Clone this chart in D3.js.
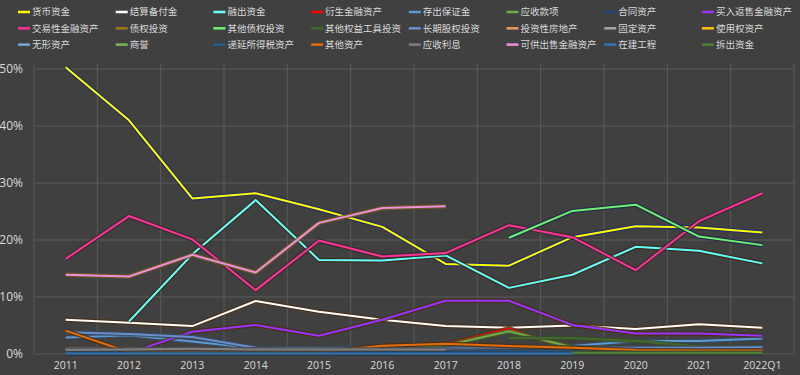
<!DOCTYPE html>
<html>
<head>
<meta charset="utf-8">
<script src="https://cdn.jsdelivr.net/npm/d3@7"></script>
<style>
  body { margin: 0; background: #404040; }
  .axis text { fill: #d9d9d9; font-family: "Open Sans", "Liberation Sans", sans-serif; }
  .legend text { fill: #d9d9d9; font-family: "Noto Sans CJK SC", sans-serif; font-size: 9.5px; }
</style>
</head>
<body>
<div id="chart"></div>
<script>
// categories on the x axis
var categories = ["2011","2012","2013","2014","2015","2016","2017","2018","2019","2020","2021","2022Q1"];

// series names (legend order = draw order)
var seriesNames = ["货币资金","结算备付金","融出资金","衍生金融资产","存出保证金","应收款项","合同资产","买入返售金融资产",
  "交易性金融资产","债权投资","其他债权投资","其他权益工具投资","长期股权投资","投资性房地产","固定资产","使用权资产",
  "无形资产","商誉","递延所得税资产","其他资产","应收利息","可供出售金融资产","在建工程","拆出资金"];

var seriesColors = ["#ffff00","#ffffff","#66ffff","#ff0000","#5b9bd5","#70ad47","#264478","#9933ff",
  "#ff3399","#9c7a1a","#70f070","#43682b","#698ed0","#f1975a","#a5a5a5","#ffc000",
  "#7ca5d9","#7cb94d","#255e91","#e46c0a","#7f7f7f","#f08ee0","#2e75b6","#548235"];

var glowColors = ["#1f2d6b","#4a2e14","#3a2a1a","#4a3a1a","#3a4a5a","#4a5a2a","#2a2a3a","#4a2e14",
  "#3a2a2a","#4a3a1a","#1f2d4b","#3a4a2a","#3a4a5a","#4a3a2a","#4a4a4a","#2a2a2a",
  "#3a4a5a","#4a5a2a","#2a3a4a","#4a2e14","#4a4a4a","#6b5a1a","#2a3a4a","#3a4a2a"];

// values in percent, null = no data
var 货币资金 = [50.3,41.0,27.3,28.2,25.4,22.3,15.8,15.5,20.5,22.4,22.2,21.3];
var 结算备付金 = [6.0,5.5,4.9,9.3,7.4,6.0,4.9,4.6,5.0,4.4,5.2,4.6];
var 融出资金 = [null,5.7,17.5,27.0,16.5,16.4,17.3,11.6,13.9,18.8,18.1,15.9];
var 衍生金融资产 = [0.1,0.1,0.2,0.2,0.2,0.3,1.7,4.5,0.6,0.3,0.3,0.3];
var 存出保证金 = [2.9,3.3,2.2,1.0,1.0,1.2,1.2,1.3,1.4,2.3,2.3,2.7];
var 应收款项 = [0.4,0.3,0.4,0.4,0.4,0.6,1.5,4.0,1.2,0.9,0.8,0.8];
var 合同资产 = [null,null,null,null,null,null,null,null,null,0.1,0.1,0.1];
var 买入返售金融资产 = [null,0.2,3.9,5.1,3.2,6.0,9.35,9.35,5.1,3.6,3.6,3.2];
var 交易性金融资产 = [16.7,24.2,20.1,11.2,19.9,17.1,17.7,22.6,20.5,14.7,23.3,28.2];
var 债权投资 = [null,null,null,null,null,null,null,0.5,0.4,0.3,0.3,0.3];
var 其他债权投资 = [null,null,null,null,null,null,null,20.4,25.1,26.2,20.6,19.1];
var 其他权益工具投资 = [null,null,null,null,null,null,null,2.8,2.8,2.3,1.3,1.2];
var 长期股权投资 = [3.8,3.5,3.0,1.1,1.0,0.9,0.9,1.0,1.1,1.1,1.1,1.2];
var 投资性房地产 = [0.1,0.1,0.1,0.1,0.1,0.1,0.1,0.1,0.1,0.1,0.1,0.1];
var 固定资产 = [0.9,0.9,0.8,0.8,0.6,0.6,0.6,0.6,0.6,0.5,0.5,0.5];
var 使用权资产 = [null,null,null,null,null,null,null,null,0.4,0.3,0.3,0.3];
var 无形资产 = [0.3,0.3,0.3,0.3,0.3,0.3,0.3,0.4,0.4,0.4,0.4,0.4];
var 商誉 = [0.2,0.2,0.2,0.2,0.2,0.2,0.2,0.2,0.2,0.2,0.2,0.2];
var 递延所得税资产 = [0.3,0.3,0.3,0.3,0.3,0.3,0.4,0.5,0.5,0.5,0.4,0.4];
var 其他资产 = [4.1,0.3,0.3,0.3,0.3,1.45,1.8,1.4,1.1,0.7,0.6,0.6];
var 应收利息 = [0.7,0.8,0.9,0.8,0.8,0.8,0.8,null,null,null,null,null];
var 可供出售金融资产 = [13.9,13.6,17.4,14.3,23.0,25.6,25.9,null,null,null,null,null];
var 在建工程 = [0.1,0.1,0.1,0.1,0.1,0.1,0.1,0.1,0.1,0.1,0.1,0.1];
var 拆出资金 = [null,null,null,null,null,null,null,null,0.2,0.2,0.2,0.2];

var seriesValues = [货币资金,结算备付金,融出资金,衍生金融资产,存出保证金,应收款项,合同资产,买入返售金融资产,
  交易性金融资产,债权投资,其他债权投资,其他权益工具投资,长期股权投资,投资性房地产,固定资产,使用权资产,
  无形资产,商誉,递延所得税资产,其他资产,应收利息,可供出售金融资产,在建工程,拆出资金];

var yTicks = [0,10,20,30,40,50];

var W = 800, H = 375,
    plot = {left: 34, right: 794, top: 69, bottom: 354};

var svg = d3.select("#chart").append("svg")
    .attr("width", W)
    .attr("height", H)
    .style("background", "#404040");

var x = d3.scaleBand().domain(categories).range([plot.left, plot.right]).padding(0);
var y = d3.scaleLinear().domain([0, 50]).range([plot.bottom, plot.top]);

// grid
var grid = svg.append("g");
grid.selectAll("line.h")
  .data(yTicks)
  .enter().append("line")
    .attr("x1", plot.left).attr("x2", plot.right)
    .attr("y1", function(d) { return y(d); })
    .attr("y2", function(d) { return y(d); })
    .attr("stroke", "#5a5a5a").attr("stroke-width", 1);
var vlines = categories.map(function(c) { return x(c); }).concat([plot.right]);
grid.selectAll("line.v")
  .data(vlines)
  .enter().append("line")
    .attr("x1", function(d) { return d; }).attr("x2", function(d) { return d; })
    .attr("y1", plot.top - 5).attr("y2", plot.bottom)
    .attr("stroke", "#5a5a5a").attr("stroke-width", 1);

// axes
var yAxis = d3.axisLeft(y).tickValues(yTicks).tickSize(0).tickPadding(11)
    .tickFormat(function(d) { return d + "%"; });
svg.append("g")
    .attr("class", "axis")
    .attr("transform", "translate(" + plot.left + ",0)")
    .call(yAxis)
    .call(function(g) { g.select(".domain").remove(); })
    .selectAll("text").style("font-size", "12px");

var xAxis = d3.axisBottom(x).tickSize(0).tickPadding(8);
svg.append("g")
    .attr("class", "axis")
    .attr("transform", "translate(0," + plot.bottom + ")")
    .call(xAxis)
    .call(function(g) { g.select(".domain").remove(); })
    .selectAll("text").style("font-size", "10.5px");

// lines
var line = d3.line()
    .defined(function(d) { return d != null; })
    .x(function(d, i) { return x(categories[i]) + x.bandwidth() / 2; })
    .y(function(d) { return y(d); });

var lines = svg.append("g");
seriesValues.forEach(function(vals, k) {
  lines.append("path")
    .attr("d", line(vals))
    .attr("fill", "none")
    .attr("stroke", glowColors[k])
    .attr("stroke-opacity", 0.85)
    .attr("stroke-width", 4.5)
    .attr("stroke-linejoin", "round");
  lines.append("path")
    .attr("d", line(vals))
    .attr("fill", "none")
    .attr("stroke", seriesColors[k])
    .attr("stroke-width", 2)
    .attr("stroke-linejoin", "round");
});

// legend, 8 per row
var legend = svg.append("g").attr("class", "legend");
seriesNames.forEach(function(name, k) {
  var col = k % 8, row = Math.floor(k / 8);
  var lx = 18 + col * 97.7, ly = 12 + row * 16.3;
  legend.append("line")
    .attr("x1", lx).attr("x2", lx + 12)
    .attr("y1", ly).attr("y2", ly)
    .attr("stroke", seriesColors[k]).attr("stroke-width", 2.5);
  legend.append("text")
    .attr("x", lx + 14).attr("y", ly)
    .attr("dy", "0.35em")
    .text(name);
});
</script>
</body>
</html>
